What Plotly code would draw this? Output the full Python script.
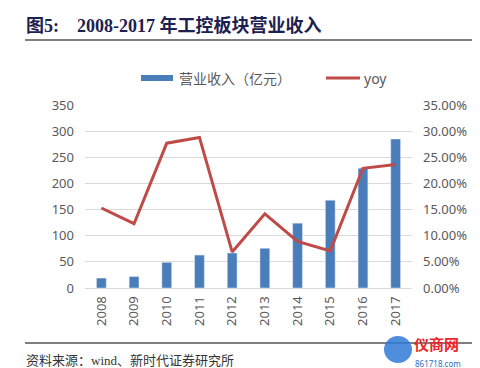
import plotly.graph_objects as go

years = ["2008", "2009", "2010", "2011", "2012", "2013", "2014", "2015", "2016", "2017"]
revenue = [19, 22, 49, 63, 67, 76, 124, 168, 229, 285]
yoy = [0.153, 0.123, 0.277, 0.288, 0.069, 0.142, 0.089, 0.071, 0.229, 0.236]

L, R, T, B = 77, 76, 97, 88
W, H = 480, 368
pw, ph = W - L - R, H - T - B

def px(x):
    return (x - L) / pw

def py(y):
    return (H - B - y) / ph

fig = go.Figure()
fig.add_trace(go.Bar(x=years, y=revenue, name="营业收入（亿元）", marker_color="#4a7ebb",
                     width=0.3, yaxis="y"))
fig.add_trace(go.Scatter(x=years, y=yoy, name="yoy", mode="lines",
                         line=dict(color="#be4b48", width=3), yaxis="y2"))

tickfont = dict(family="Noto Sans, Open Sans, sans-serif", size=13, color="#595959")

fig.update_layout(
    width=W, height=H,
    margin=dict(l=L, r=R, t=T, b=B),
    paper_bgcolor="white", plot_bgcolor="white",
    showlegend=False,
    title=dict(text="图5:    2008-2017 年工控板块营业收入", x=18 / W, xanchor="left",
               y=1 - 18 / H, yanchor="middle", pad=dict(l=0, r=0, t=0, b=0),
               font=dict(family="Liberation Serif, Noto Sans CJK SC, serif", size=18,
                         color="#1c2150", weight="bold")),
    xaxis=dict(type="category", tickangle=-90, tickfont=tickfont, showgrid=False,
               showline=True, linecolor="#d9d9d9", ticks="", ticklabelstandoff=2),
    yaxis=dict(range=[0, 350], dtick=50, tickfont=tickfont, gridcolor="#d9d9d9",
               showline=False, zeroline=False, ticks="", ticklabelstandoff=10),
    yaxis2=dict(range=[0, 0.35], dtick=0.05, tickformat=".2%", overlaying="y", side="right",
                tickfont=tickfont, showgrid=False, zeroline=False, showline=False,
                ticks="", ticklabelstandoff=10),
)

shapes = [
    dict(type="line", xref="paper", yref="paper", x0=px(17), x1=px(470), y0=py(32), y1=py(32),
         line=dict(color="#555555", width=1.5)),
    dict(type="line", xref="paper", yref="paper", x0=px(17), x1=px(470), y0=py(335), y1=py(335),
         line=dict(color="#555555", width=1.5)),
    dict(type="rect", xref="paper", yref="paper", x0=px(133), x1=px(165), y0=py(73), y1=py(67),
         fillcolor="#4a7ebb", line=dict(width=0)),
    dict(type="line", xref="paper", yref="paper", x0=px(318), x1=px(352), y0=py(70), y1=py(70),
         line=dict(color="#be4b48", width=3)),
    dict(type="circle", xref="paper", yref="paper", x0=px(376), x1=px(404), y0=py(355), y1=py(328),
         fillcolor="#2f7ad6", line=dict(width=0), opacity=0.85),
]
fig.update_layout(shapes=shapes)

legfont = dict(family="Noto Sans CJK SC, sans-serif", size=14, color="#595959")
annotations = [
    dict(text="营业收入（亿元）", x=px(169), y=py(70), xanchor="left", yanchor="middle",
         font=legfont),
    dict(text="yoy", x=px(354), y=py(70), xanchor="left", yanchor="middle",
         font=dict(family="Noto Sans, sans-serif", size=14, color="#595959")),
    dict(text="资料来源：wind、新时代证券研究所", x=px(16), y=py(352), xanchor="left", yanchor="middle",
         font=dict(family="Liberation Serif, Noto Sans CJK SC, serif", size=13, color="#333333")),
    dict(text="<b>仪商网</b>", x=px(405), y=py(335), xanchor="left", yanchor="middle",
         font=dict(family="Noto Sans CJK SC, sans-serif", size=15, color="#e8262b"),
         borderpad=0),
    dict(text="861718.com", x=px(406), y=py(355), xanchor="left", yanchor="middle",
         font=dict(family="Noto Sans, sans-serif", size=8, color="#2f6fc2"), borderpad=0),
]
for a in annotations:
    a.update(xref="paper", yref="paper", showarrow=False)
fig.update_layout(annotations=annotations)

fig.write_html("out.html")
